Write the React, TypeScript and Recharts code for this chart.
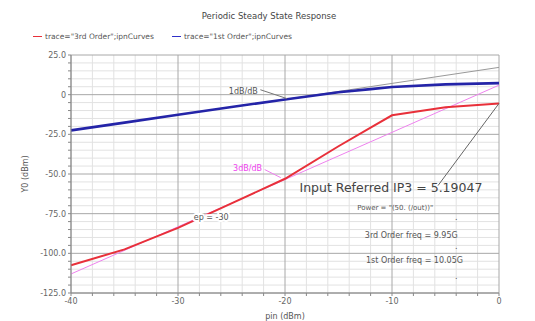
import React from 'react';
import { LineChart, Line, XAxis, YAxis, ReferenceLine, ReferenceDot } from 'recharts';

// pin (dBm) sweep points and read-off output powers (dBm)
const pin = [-40, -35, -30, -25, -20, -15, -12, -10, -5, 0];
const firstOrder = [-22.5, -17.6, -12.7, -7.8, -3, 1.5, 3.5, 4.8, 6.5, 7.3];
const thirdOrder = [-107.5, -97.5, -84, -68.5, -53, -32.5, -20.8, -13, -8, -5.5];

// extrapolation lines
const slope1X = [-20, 0];
const slope1Y = [-3, 17.2];
const slope3X = [-40, 0];
const slope3Y = [-113, 6];

const xTicks = [-40, -30, -20, -10, 0];
const yTicks = [25, 0, -25, -50, -75, -100, -125];
const xMinor = [-38, -36, -34, -32, -28, -26, -24, -22, -18, -16, -14, -12, -8, -6, -4, -2];
const yMinor = [20, 15, 10, 5, -5, -10, -15, -20, -30, -35, -40, -45, -55, -60, -65, -70, -80, -85, -90, -95, -105, -110, -115, -120];

const data = pin.map((x, i) => ({ x, first: firstOrder[i], third: thirdOrder[i] }));
const slope1 = slope1X.map((x, i) => ({ x, g: slope1Y[i] }));
const slope3 = slope3X.map((x, i) => ({ x, m: slope3Y[i] }));

const notes = [
  { x: -23.9, y: 2.5, text: '1dB/dB', color: '#555', size: 8, bg: false },
  { x: -23.5, y: -46.6, text: '3dB/dB', color: '#ee44ee', size: 8, bg: false },
  { x: -26.9, y: -77.5, text: 'ep = -30', color: '#555', size: 8, bg: true },
  { x: -10.1, y: -58.6, text: 'Input Referred IP3 = 5.19047', color: '#444', size: 12.5, bg: false },
  { x: -9.7, y: -71.2, text: 'Power = "(50. (/out))"', color: '#555', size: 7, bg: false },
  { x: -8.2, y: -88.8, text: '3rd Order freq = 9.95G', color: '#555', size: 8, bg: false },
  { x: -7.9, y: -104.5, text: '1st Order freq = 10.05G', color: '#555', size: 8, bg: false },
  { x: -4, y: -77.5, text: '.', color: '#555', size: 8, bg: false },
  { x: -4, y: -95.5, text: '.', color: '#555', size: 8, bg: false },
  { x: -4, y: -114.5, text: '.', color: '#555', size: 8, bg: false },
];

const font = '"DejaVu Sans", sans-serif';
const allX = [...xTicks, ...xMinor];
const allY = [...yTicks, ...yMinor];

export default function App() {
  return (
    <div style={{ position: 'absolute', left: 0, top: 0, width: 535, height: 321, background: '#fff', fontFamily: font }}>
      <div style={{ position: 'absolute', top: 11, left: 0, width: 538, textAlign: 'center', fontSize: 8.5, color: '#444' }}>
        Periodic Steady State Response
      </div>
      <div style={{ position: 'absolute', top: 32, left: 33, fontSize: 7.5, color: '#555', display: 'flex', alignItems: 'center', whiteSpace: 'nowrap' }}>
        <span style={{ display: 'inline-block', width: 9, height: 1.5, background: '#e8303a', marginRight: 3 }} />
        <span>trace="3rd Order";ipnCurves</span>
        <span style={{ display: 'inline-block', width: 9, height: 1.5, background: '#3030c8', marginLeft: 18, marginRight: 3 }} />
        <span>trace="1st Order";ipnCurves</span>
      </div>
      <LineChart width={535} height={321} data={data} margin={{ top: 55, right: 36, bottom: 0, left: 11 }}>
        {xMinor.map((v) => <ReferenceLine key={'xm' + v} x={v} stroke="#e2e2e2" strokeWidth={1} />)}
        {yMinor.map((v) => <ReferenceLine key={'ym' + v} y={v} stroke="#e2e2e2" strokeWidth={1} />)}
        {xTicks.map((v) => <ReferenceLine key={'xM' + v} x={v} stroke="#a8a8a8" strokeWidth={1} />)}
        {yTicks.map((v) => <ReferenceLine key={'yM' + v} y={v} stroke="#a8a8a8" strokeWidth={1} />)}
        <XAxis
          dataKey="x"
          type="number"
          domain={[-40, 0]}
          ticks={allX}
          interval={0}
          height={28}
          stroke="#888"
          tickSize={3}
          tickFormatter={(v: number) => (xTicks.includes(v) ? String(v) : '')}
          tick={{ fontSize: 8, fill: '#666', fontFamily: font }}
          label={{ value: 'pin (dBm)', position: 'insideBottom', offset: 2, fontSize: 8, fill: '#555', fontFamily: font }}
        />
        <YAxis
          type="number"
          domain={[-125, 25]}
          ticks={allY}
          interval={0}
          width={60}
          stroke="#888"
          tickSize={3}
          tickFormatter={(v: number) => (yTicks.includes(v) ? (v === 0 ? '0' : v.toFixed(1)) : '')}
          tick={{ fontSize: 8, fill: '#666', fontFamily: font }}
          label={{ value: 'Y0 (dBm)', angle: -90, position: 'insideLeft', offset: 14, fontSize: 8, fill: '#555', fontFamily: font, style: { textAnchor: 'middle' } }}
        />
        <Line data={slope1} dataKey="g" stroke="#999" strokeWidth={1} dot={false} isAnimationActive={false} />
        <Line data={slope3} dataKey="m" stroke="#ee82ee" strokeWidth={1} dot={false} isAnimationActive={false} />
        <Line dataKey="first" stroke="#2424a8" strokeWidth={2.6} dot={false} isAnimationActive={false} />
        <Line dataKey="third" stroke="#e8303a" strokeWidth={2} dot={false} isAnimationActive={false} />
        <ReferenceLine segment={[{ x: -22.3, y: 3.1 }, { x: -19.8, y: -2.5 }]} stroke="#777" />
        <ReferenceLine segment={[{ x: -21.9, y: -47.2 }, { x: -20.4, y: -52.3 }]} stroke="#ee82ee" />
        <ReferenceLine segment={[{ x: 0, y: -5.5 }, { x: -5.7, y: -57.3 }]} stroke="#666" />
        {notes.map((n, i) => (
          <ReferenceDot
            key={'n' + i}
            x={n.x}
            y={n.y}
            r={0}
            stroke="none"
            label={{
              value: n.text,
              position: 'center',
              fill: n.color,
              fontSize: n.size,
              fontFamily: font,
              ...(n.bg ? { stroke: '#fff', strokeWidth: 4, paintOrder: 'stroke' } : {}),
            }}
          />
        ))}
      </LineChart>
    </div>
  );
}
